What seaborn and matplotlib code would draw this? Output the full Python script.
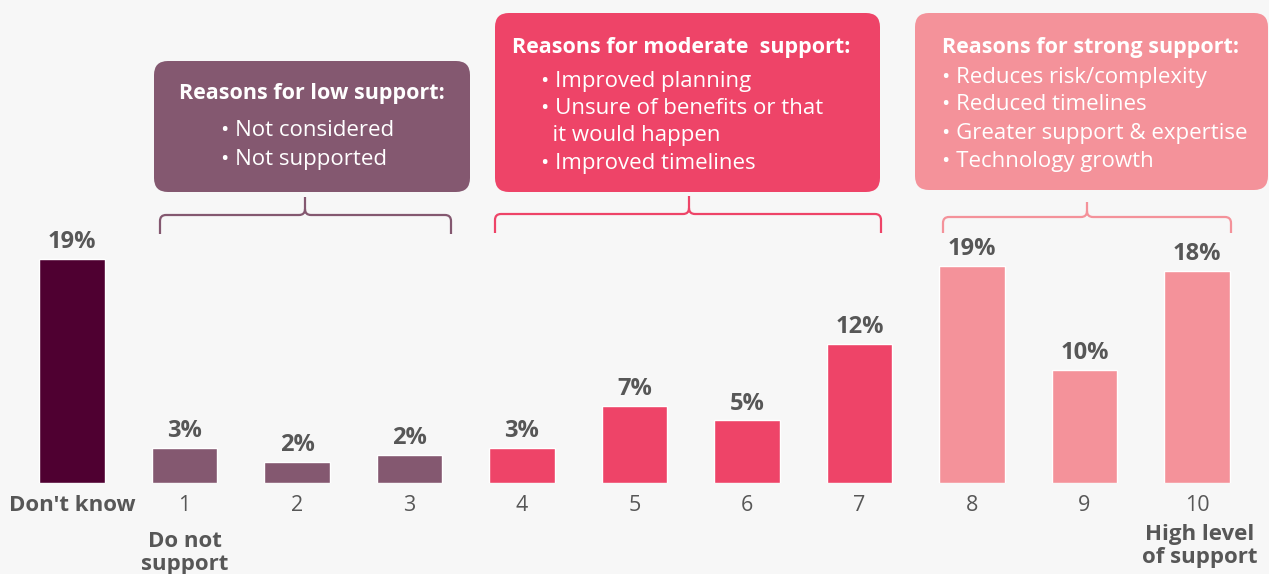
import matplotlib
matplotlib.use("Agg")
import matplotlib.pyplot as plt
import matplotlib.transforms as mtransforms
from matplotlib.patches import FancyBboxPatch, PathPatch
from matplotlib.path import Path
import seaborn as sns
import pandas as pd

# ---------------- data ----------------
categories = ["Don't know", "1", "2", "3", "4", "5", "6", "7", "8", "9", "10"]
values = [19.0, 3.0, 1.8, 2.4, 3.0, 6.5, 5.3, 11.8, 18.4, 9.6, 18.0]
value_labels = ["19%", "3%", "2%", "2%", "3%", "7%", "5%", "12%", "19%", "10%", "18%"]
groups = ["Unknown", "Low", "Low", "Low", "Moderate", "Moderate", "Moderate",
          "Moderate", "Strong", "Strong", "Strong"]
group_colors = {"Unknown": "#4f0031", "Low": "#845870",
                "Moderate": "#ee4468", "Strong": "#f4929a"}

low_title = "Reasons for low support:"
low_items = ["• Not considered", "• Not supported"]
mod_title = "Reasons for moderate  support:"
mod_items = ["• Improved planning", "• Unsure of benefits or that",
             "  it would happen", "• Improved timelines"]
strong_title = "Reasons for strong support:"
strong_items = ["• Reduces risk/complexity", "• Reduced timelines",
                "• Greater support & expertise", "• Technology growth"]

BG = "#f7f7f7"
TXT = "#575757"
W, H = 1269, 574

sns.set_theme(style="white")
plt.rcParams['font.family'] = ['Open Sans', 'DejaVu Sans']

fig = plt.figure(figsize=(W / 100, H / 100), dpi=100, facecolor=BG)
ax = fig.add_axes([0, 91 / H, 1, 483 / H])
ax.set_facecolor(BG)

df = pd.DataFrame({"category": categories, "value": values, "group": groups})
sns.barplot(data=df, x="category", y="value", hue="group", palette=group_colors,
            order=categories, width=0.58, dodge=False, legend=False,
            saturation=1, ax=ax)

ax.set_xlim(-0.64, 10.64)
ax.set_ylim(0, 483 / 11.8)
for s in ax.spines.values():
    s.set_visible(False)
ax.set_yticks([])
ax.set_xlabel("")
ax.set_ylabel("")
ax.set_xticks(range(len(categories)))
ax.set_xticklabels(categories)
ax.tick_params(axis="x", length=0, pad=8.5, labelsize=15.5, labelcolor=TXT)
for i, t in enumerate(ax.get_xticklabels()):
    if i == 0:
        t.set_fontweight("bold")
        t.set_fontsize(16)

for i, (v, lab) in enumerate(zip(values, value_labels)):
    ax.annotate(lab, (i, v), xytext=(0, 12.2), textcoords="offset points",
                ha="center", va="center", fontsize=17, fontweight="bold", color=TXT)

# pixel transform (origin top-left)
px = mtransforms.Affine2D().scale(1 / W, -1 / H).translate(0, 1) + fig.transFigure

fig.text(185, 553, "Do not\nsupport", transform=px, ha="center", va="center",
         fontsize=16, fontweight="bold", color=TXT, linespacing=1.12)
fig.text(1200, 546, "High level\nof support", transform=px, ha="center", va="center",
         fontsize=16, fontweight="bold", color=TXT, linespacing=1.12)


def box(x0, y0, x1, y1, color):
    p = FancyBboxPatch((x0, y0), x1 - x0, y1 - y0,
                       boxstyle="round,pad=0,rounding_size=14",
                       transform=px, facecolor=color, edgecolor="none")
    fig.add_artist(p)


def bracket(xl, xr, xc, yh, yb, yt, color, r=6):
    verts = [(xl, yb), (xl, yh + r), (xl, yh), (xl + r, yh), (xc - r, yh), (xc, yh), (xc, yh - r), (xc, yt),
             (xc, yh - r), (xc, yh), (xc + r, yh), (xr - r, yh), (xr, yh), (xr, yh + r), (xr, yb)]
    codes = [Path.MOVETO, Path.LINETO, Path.CURVE3, Path.CURVE3, Path.LINETO, Path.CURVE3, Path.CURVE3, Path.LINETO,
             Path.MOVETO, Path.CURVE3, Path.CURVE3, Path.LINETO, Path.CURVE3, Path.CURVE3, Path.LINETO]
    pp = PathPatch(Path(verts, codes), transform=px, facecolor="none",
                   edgecolor=color, lw=1.6, capstyle="butt", joinstyle="round")
    fig.add_artist(pp)


# low support box
box(154, 61, 470, 192, group_colors["Low"])
fig.text(312, 94, low_title, transform=px, ha="center", va="center",
         fontsize=15.5, fontweight="bold", color="white")
for k, it in enumerate(low_items):
    fig.text(221, 131 + 28 * k, it, transform=px, ha="left", va="center",
             fontsize=16, color="white")
bracket(160, 451, 305, 215, 234, 197, group_colors["Low"])

# moderate support box
box(495, 13, 880, 192, group_colors["Moderate"])
fig.text(512, 48, mod_title, transform=px, ha="left", va="center",
         fontsize=15.5, fontweight="bold", color="white")
for k, it in enumerate(mod_items):
    fig.text(541, 82 + 27 * k, it, transform=px, ha="left", va="center",
             fontsize=16, color="white")
bracket(495, 881, 689, 214, 233, 196, group_colors["Moderate"])

# strong support box
box(915, 13, 1268, 190, group_colors["Strong"])
fig.text(942, 47, strong_title, transform=px, ha="left", va="center",
         fontsize=15.5, fontweight="bold", color="white")
for k, it in enumerate(strong_items):
    fig.text(942, 77 + 28 * k, it, transform=px, ha="left", va="center",
             fontsize=16, color="white")
bracket(943, 1231, 1087, 217, 233, 202, group_colors["Strong"])

fig.savefig("out.png", dpi=100, facecolor=BG)
